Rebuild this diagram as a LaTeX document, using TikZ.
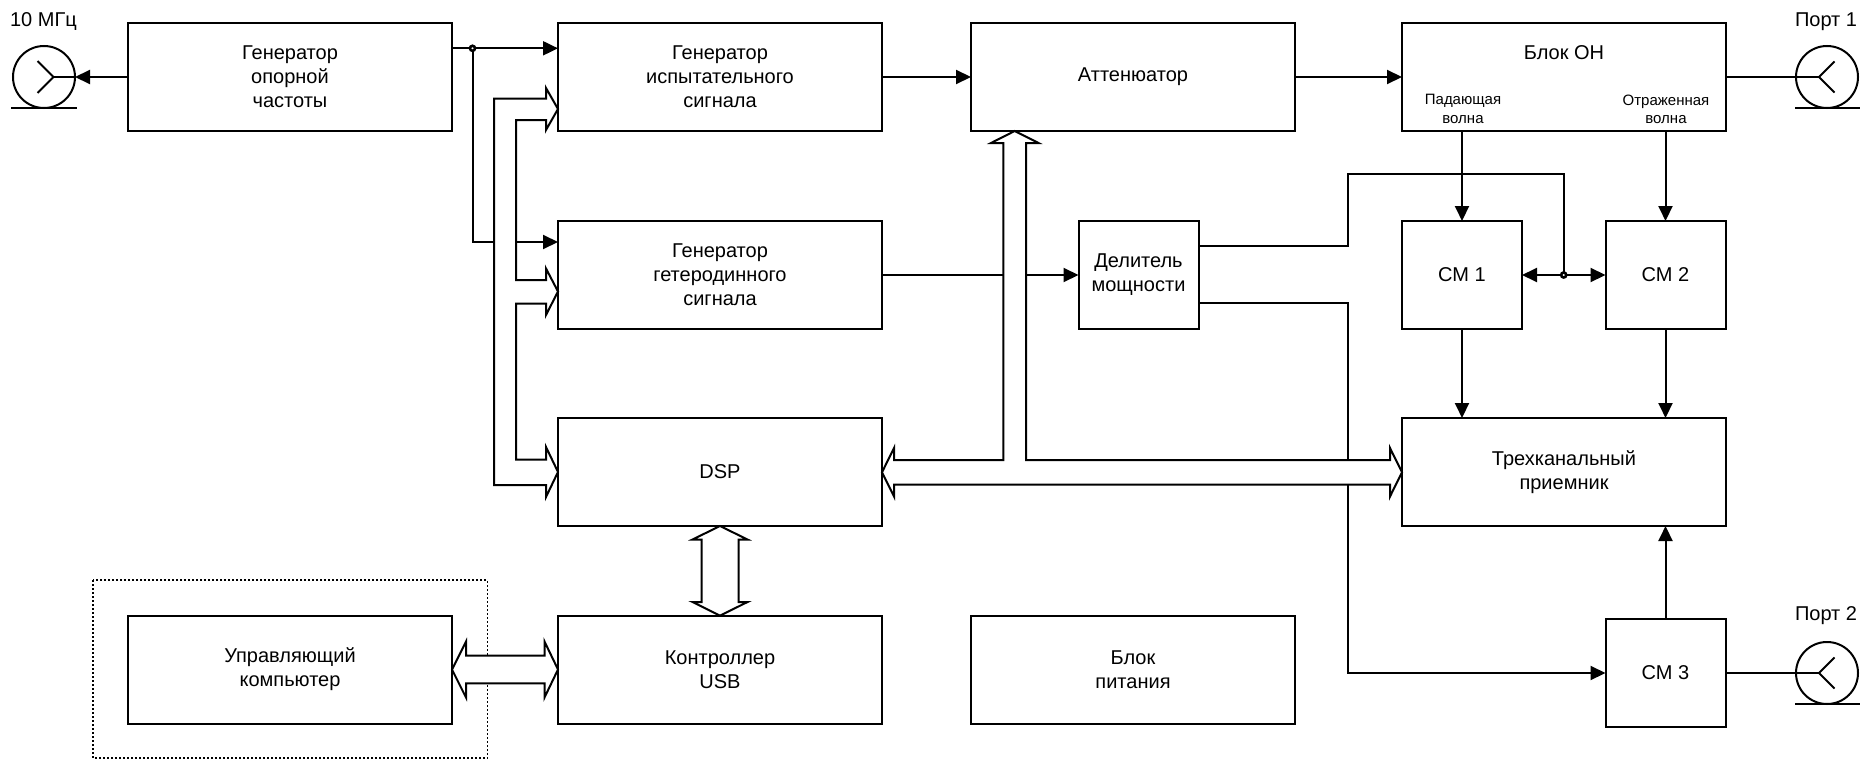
\documentclass[tikz,border=0pt]{standalone}
\usepackage{fontspec}
\setmainfont{Liberation Sans}
\usetikzlibrary{arrows.meta,calc}
\begin{document}
\begin{tikzpicture}[x=1pt,y=-1pt,
  line width=2pt, line join=miter,
  >={Triangle[length=15pt,width=14pt]},
  box/.style={draw, line width=2pt, minimum width=324pt, minimum height=108pt, inner sep=0pt, outer sep=0pt, align=center, font=\fontsize{20}{24}\selectfont},
  sbox/.style={box, minimum width=120pt},
  lbl/.style={inner sep=0pt, align=center, font=\fontsize{20}{24}\selectfont},
  slbl/.style={inner sep=0pt, align=center, font=\fontsize{15}{18.3}\selectfont},
  port/.style={circle, draw, line width=2pt, minimum size=62pt, inner sep=0pt, outer sep=0pt},
  bus/.style={draw, fill=white, line width=2pt, line join=miter},
  jdot/.style={circle, draw, fill=white, line width=2.6pt, minimum size=5pt, inner sep=0pt}
]
\fill[white] (0,0) rectangle (1861,760);
\useasboundingbox (0,0) rectangle (1861,760);

% boxes
\node[box] (genref) at (290,77) {Генератор\\опорной\\частоты};
\node[box] (gentest) at (720,77) {Генератор\\испытательного\\сигнала};
\node[box] (att) at (1133,77) {Аттенюатор};
\node[box] (blokoh) at (1564,77) {};
\node[lbl] (blokohT) at (1564,53) {Блок ОН};
\node[slbl] (pad) at (1463,109) {Падающая\\волна};
\node[slbl] (otr) at (1666,109) {Отраженная\\волна};
\node[box] (genhet) at (720,275) {Генератор\\гетеродинного\\сигнала};
\node[sbox] (del) at (1138.5,275) {Делитель\\мощности};
\node[sbox] (cm1) at (1462,275) {СМ 1};
\node[sbox] (cm2) at (1665.5,275) {СМ 2};
\node[box] (dsp) at (720,472) {DSP};
\node[box] (rec) at (1564,472) {Трехканальный\\приемник};
\node[box] (usb) at (720,669.5) {Контроллер\\USB};
\node[box] (komp) at (290,669.5) {Управляющий\\компьютер};
\node[box] (pit) at (1133,669.5) {Блок\\питания};
\node[sbox] (cm3) at (1665.5,673) {СМ 3};

% ports
\node[port] (p0) at (44,77) {};
\node[port] (p1) at (1827,77) {};
\node[port] (p2) at (1827,673) {};
\draw ([xshift=-33pt]p0.south) -- ([xshift=33pt]p0.south);
\draw ([xshift=-32pt]p1.south) -- ([xshift=33pt]p1.south);
\draw ([xshift=-32pt]p2.south) -- ([xshift=33pt]p2.south);
\coordinate (v0) at (53.5,77);
\coordinate (v1) at (1819,77);
\coordinate (v2) at (1819,673);
\draw ($(v0)+(-16,-16)$) -- (v0) -- ($(v0)+(-16,16)$);
\draw (v0) -- (p0.east);
\draw ($(v1)+(15.5,-15.5)$) -- (v1) -- ($(v1)+(15.5,15.5)$);
\draw ($(v2)+(15.5,-15.5)$) -- (v2) -- ($(v2)+(15.5,15.5)$);
\node[lbl] (l0) at (43.5,21.7) {10 МГц};
\node[lbl] (l1) at (1826,21.7) {Порт 1};
\node[lbl] (l2) at (1826,616) {Порт 2};

% thin connectors
\draw[->] (genref.west) -- (p0.east);
\coordinate (d1) at (472.5,48.3);
\coordinate (d1b) at (472.5,242);
\draw (genref.east |- d1) -- (d1);
\draw[->] (d1) -- (gentest.west |- d1);
\draw[->] (d1) -- (d1b) -- (genhet.west |- d1b);
\draw[->] (gentest.east) -- (att.west);
\draw[->] (att.east) -- (blokoh.west);
\draw (blokoh.east) -- (v1);
\draw[->] (genhet.east) -- (del.west);
\coordinate (du) at (1348.3,246);
\coordinate (dtop) at (1348.3,174);
\coordinate (d2) at (1563.7,275);
\draw (del.east |- du) -- (du) -- (dtop) -| (d2);
\draw[->] (d2) -- (cm1.east);
\draw[->] (d2) -- (cm2.west);
\coordinate (dl) at (1348.3,303.3);
\draw[->] (del.east |- dl) -- (dl) |- (cm3.west);
\draw[->] (cm1.north |- blokoh.south) -- (cm1.north);
\draw[->] (cm2.north |- blokoh.south) -- (cm2.north);
\draw[->] (cm1.south) -- (cm1.south |- rec.north);
\draw[->] (cm2.south) -- (cm2.south |- rec.north);
\draw[->] (cm3.north) -- (cm3.north |- rec.south);
\draw (cm3.east) -- (v2);
\node[jdot] (j1) at (d1) {};
\node[jdot] (j2) at (d2) {};

% dotted frame
\draw[line width=1.5pt, dash pattern=on 2pt off 2pt] (93,580) rectangle (487.5,758);

% hollow buses
\draw[bus] (558,109) -- (546,130) -- (546,120) -- (516,120) -- (516,280) -- (546,280) -- (546,268.5) -- (558,291.5) -- (546,315) -- (546,303.5) -- (516,303.5) -- (516,459.5) -- (546,459.5) -- (546,447) -- (558,472) -- (546,497) -- (546,485) -- (494,485) -- (494,98.5) -- (546,98.5) -- (546,88) -- cycle;
\draw[bus] (1014.7,131) -- (1038.5,143) -- (1026,143) -- (1026,460) -- (1390,460) -- (1390,448) -- (1402,472.3) -- (1390,496.5) -- (1390,484.5) -- (894,484.5) -- (894,496.5) -- (882,472.3) -- (894,448) -- (894,460) -- (1003.3,460) -- (1003.3,143) -- (991,143) -- cycle;
\draw[bus] (720,526) -- (747.5,539.5) -- (738.5,539.5) -- (738.5,602) -- (747.5,602) -- (720,615.7) -- (692.5,602) -- (701.5,602) -- (701.5,539.5) -- (692.5,539.5) -- cycle;
\draw[bus] (452,669.5) -- (466,641.5) -- (466,655.7) -- (544.5,655.7) -- (544.5,641.5) -- (558,669.5) -- (544.5,697.5) -- (544.5,683.3) -- (466,683.3) -- (466,697.5) -- cycle;
\end{tikzpicture}
\end{document}
